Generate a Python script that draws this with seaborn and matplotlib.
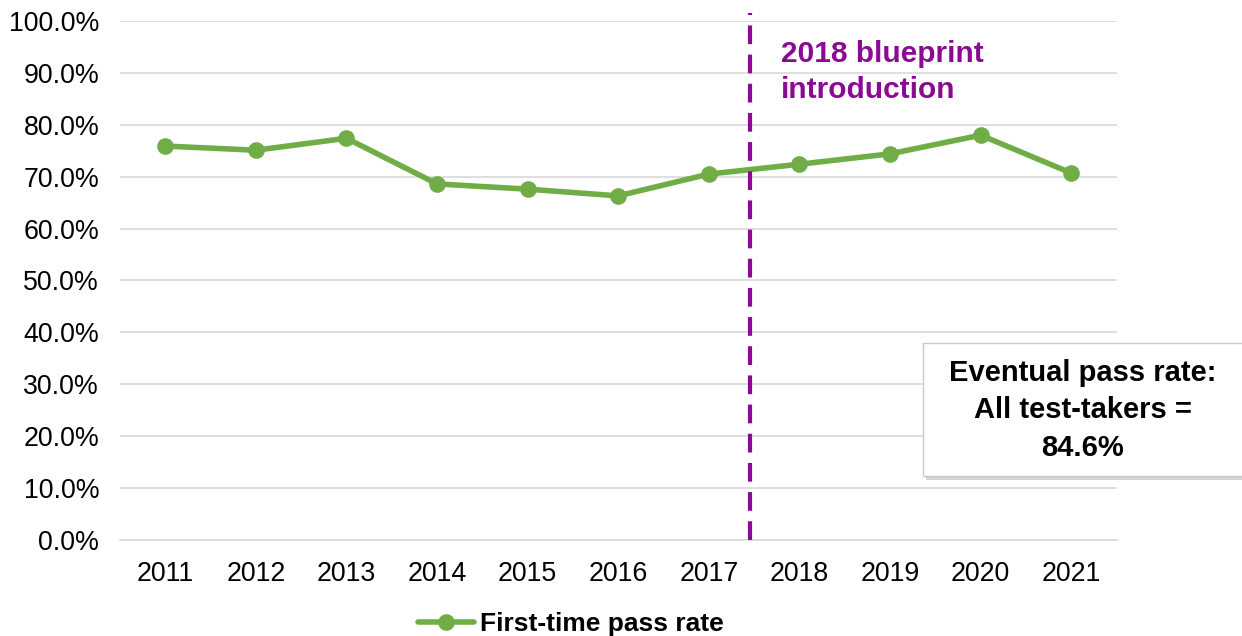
import pandas as pd
import matplotlib.pyplot as plt
import seaborn as sns
from matplotlib.ticker import PercentFormatter, MultipleLocator
from matplotlib.patches import Rectangle

# First-time pass rate by year (percent)
years = [2011, 2012, 2013, 2014, 2015, 2016, 2017, 2018, 2019, 2020, 2021]
pass_rate = [75.9, 75.1, 77.4, 68.6, 67.6, 66.3, 70.5, 72.4, 74.4, 78.0, 70.7]
series_name = "First-time pass rate"
blueprint_label = "2018 blueprint\nintroduction"
box_label = "Eventual pass rate:\nAll test-takers =\n84.6%"

df = pd.DataFrame({"Year": years, "Rate": pass_rate})

sns.set_style("white")
plt.rcParams['font.family'] = ['Liberation Sans', 'DejaVu Sans']
plt.rcParams['text.color'] = 'black'

green = "#70AD47"
purple = "#8B0A93"

fig = plt.figure(figsize=(12.42, 6.36), dpi=100)
ax = fig.add_axes([0.0966, 0.151, 0.8024, 0.816])

sns.lineplot(data=df, x="Year", y="Rate", ax=ax, color=green, linewidth=4,
             marker="o", markersize=12, markeredgewidth=0, label=series_name)

ax.set_xlim(2010.5, 2021.5)
ax.set_ylim(0, 100)
ax.yaxis.set_major_locator(MultipleLocator(10))
ax.yaxis.set_major_formatter(PercentFormatter(xmax=100, decimals=1))
ax.set_xticks(years)
ax.grid(axis="y", color="#D9D9D9", linewidth=1.2)
ax.set_axisbelow(True)
for s in ["top", "right", "left"]:
    ax.spines[s].set_visible(False)
ax.spines["bottom"].set_color("#D9D9D9")
ax.spines["bottom"].set_linewidth(1.2)
ax.tick_params(axis="both", length=0, labelsize=19.3, pad=15, colors="black")
ax.set_xlabel("")
ax.set_ylabel("")

# blueprint marker
ax.plot([2017.455, 2017.455], [0, 101.6], color=purple, linewidth=3,
        linestyle=(0, (4.5, 2.5)), clip_on=False, zorder=3)
ax.text(2017.8, 96.4, blueprint_label, color=purple, fontsize=21.5,
        fontweight="bold", va="top", ha="left", linespacing=1.4)

# eventual pass rate box
fig.patches.append(Rectangle((926 / 1242, 1 - 480 / 636), 330 / 1242, 133 / 636,
                             transform=fig.transFigure, facecolor="#A8A8A8",
                             edgecolor="none", alpha=0.5, zorder=5))
fig.patches.append(Rectangle((923 / 1242, 1 - 476 / 636), 330 / 1242, 133 / 636,
                             transform=fig.transFigure, facecolor="white",
                             edgecolor="#C8C8C8", linewidth=1, zorder=6))
fig.text(1083 / 1242, 1 - 410.5 / 636, box_label, ha="center", va="center",
         fontsize=21, fontweight="bold", linespacing=1.45, zorder=7)

ax.get_legend().remove()
fig.legend(loc="center", bbox_to_anchor=(571 / 1242, 1 - 624 / 636), frameon=False,
           prop={"size": 19, "weight": "bold"}, handlelength=2.1,
           handletextpad=0.25)

fig.savefig("out.png", dpi=100)
